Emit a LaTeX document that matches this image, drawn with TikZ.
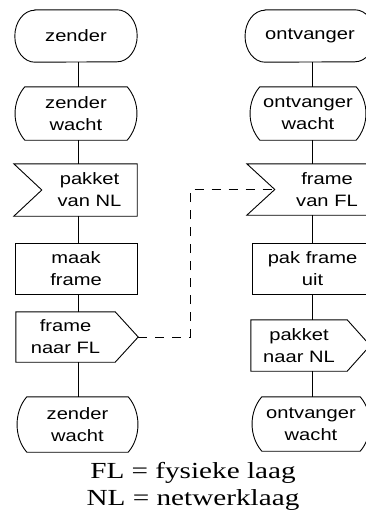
\documentclass[tikz,border=0pt]{standalone}
\usepackage{fontspec}
\newfontfamily\boxfont{Liberation Sans}[FakeStretch=1.22]
\newfontfamily\legendafont{Liberation Serif}[FakeStretch=1.27]
\tikzset{
  tekst/.style={align=center,inner sep=0pt,font=\boxfont\fontsize{16.5}{22}\selectfont},
  vak/.style={tekst,draw,line width=0.9pt},
  lijn/.style={line width=0.9pt},
  streep/.style={line width=0.9pt,dash pattern=on 9pt off 8pt}
}
% omtrekken van de vormen rond een (onzichtbare) node
\newcommand{\stadion}[1]{\draw[lijn] (#1.north west) -- (#1.north east) arc[start angle=90,end angle=-90,x radius=20pt,y radius=26pt] -- (#1.south west) arc[start angle=270,end angle=90,x radius=20pt,y radius=26pt] -- cycle;}
\newcommand{\wachtvorm}[1]{\draw[lijn] (#1.north west) .. controls +(-13,-15) and +(-13,15) .. (#1.south west) -- (#1.south east) .. controls +(13,15) and +(13,-15) .. (#1.north east) -- cycle;}
\newcommand{\ontvangvorm}[1]{\draw[lijn] (#1.west) -- ([xshift=-28pt]#1.north west) -- (#1.north east) -- (#1.south east) -- ([xshift=-28pt]#1.south west) -- cycle;}
\newcommand{\zendvorm}[1]{\draw[lijn] (#1.north west) -- (#1.north east) -- ([xshift=23pt]#1.east) -- (#1.south east) -- (#1.south west) -- cycle;}
\begin{document}
\begin{tikzpicture}[x=1pt,y=1pt]
	\useasboundingbox (0,0) rectangle (365,-525);
	\coordinate (links) at (78,0);
	\coordinate (rechts) at (312,0);
	% zender
	\node[tekst,minimum width=82pt,minimum height=52pt] (zender) at (76,-36) {zender};
	\node[tekst,minimum width=102pt,minimum height=53pt] (zwacht) at (76,-113.5) {zender\\wacht};
	\node[tekst,minimum width=95pt,minimum height=52pt] (pakketvan) at (89.5,-190) {pakket\\van NL};
	\node[vak,minimum width=122pt,minimum height=51pt] (maak) at (76,-268.5) {maak\\frame};
	\node[tekst,minimum width=99pt,minimum height=50pt] (framenaar) at (65.5,-337) {frame\\naar FL};
	\node[tekst,minimum width=101pt,minimum height=55pt] (zwachtb) at (77.5,-424.5) {zender\\wacht};
	\stadion{zender}
	\wachtvorm{zwacht}
	\ontvangvorm{pakketvan}
	\zendvorm{framenaar}
	\wachtvorm{zwachtb}
	\foreach \a/\b in {zender/zwacht,zwacht/pakketvan,pakketvan/maak,maak/framenaar,framenaar/zwachtb}
		\draw[lijn] (\a.south -| links) -- (\b.north -| links);
	% ontvanger
	\node[tekst,minimum width=84pt,minimum height=52pt] (ontvanger) at (310,-36) {ontvanger};
	\node[tekst,minimum width=96pt,minimum height=53pt] (owacht) at (308,-113.5) {ontvanger\\wacht};
	\node[tekst,minimum width=104pt,minimum height=51pt] (framevan) at (327,-189.5) {frame\\van FL};
	\node[vak,minimum width=121pt,minimum height=51pt] (pak) at (312.5,-268.5) {pak frame\\uit};
	\node[tekst,minimum width=96pt,minimum height=51pt] (pakketnaar) at (299,-345.5) {pakket\\naar NL};
	\node[tekst,minimum width=98pt,minimum height=54pt] (owachtb) at (311,-424) {ontvanger\\wacht};
	\stadion{ontvanger}
	\wachtvorm{owacht}
	\ontvangvorm{framevan}
	\zendvorm{pakketnaar}
	\wachtvorm{owachtb}
	\foreach \a/\b in {ontvanger/owacht,owacht/framevan,framevan/pak,pak/pakketnaar,pakketnaar/owachtb}
		\draw[lijn] (\a.south -| rechts) -- (\b.north -| rechts);
	% fysieke verbinding
	\draw[streep] ([xshift=23pt]framenaar.east) -- ++(52,0) |- (framevan.west);
	\node[font=\legendafont\fontsize{23}{27}\selectfont,align=center,inner sep=0pt,anchor=north] (legenda) at (193,-462) {FL = fysieke laag\\NL = netwerklaag};
\end{tikzpicture}
\end{document}
